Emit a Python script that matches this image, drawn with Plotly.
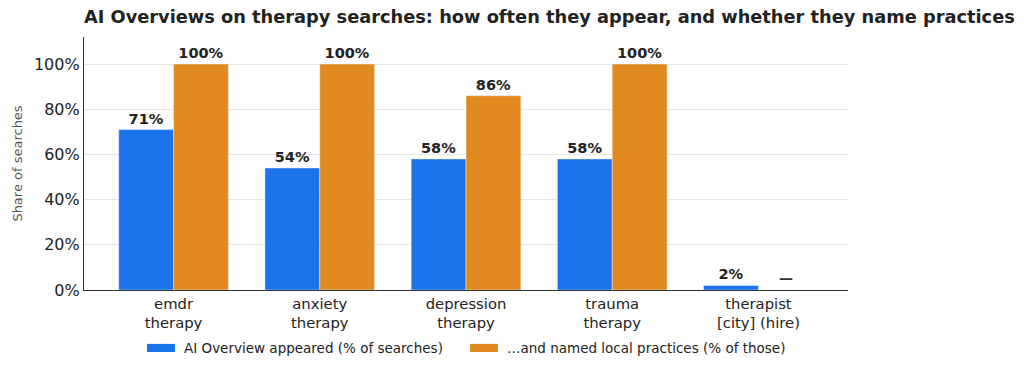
import plotly.graph_objects as go

categories = ["emdr<br>therapy", "anxiety<br>therapy", "depression<br>therapy", "trauma<br>therapy", "therapist<br>[city] (hire)"]
appeared = [71, 54, 58, 58, 2]
named_local = [100, 100, 86, 100, None]
series_names = ["AI Overview appeared (% of searches)", "…and named local practices (% of those)"]
y_ticks = [0, 20, 40, 60, 80, 100]

BLUE = "#1a73e8"
ORANGE = "#e08a1f"
FONT = "DejaVu Sans"

def labels(vals):
    return [f"<b>{v}%</b>" if v is not None else "" for v in vals]

fig = go.Figure()
fig.add_trace(go.Bar(x=categories, y=appeared, name=series_names[0], marker_color=BLUE,
                     text=labels(appeared), textposition="outside", cliponaxis=False,
                     textfont=dict(size=14.5, color="#222222", family=FONT)))
fig.add_trace(go.Bar(x=categories, y=named_local, name=series_names[1], marker_color=ORANGE,
                     text=labels(named_local), textposition="outside", cliponaxis=False,
                     textfont=dict(size=14.5, color="#222222", family=FONT)))

for c, v in zip(categories, named_local):
    if v is None:
        fig.add_annotation(x=c, y=0, xref="x", yref="y", text="<b>—</b>", showarrow=False,
                           xshift=27.5, yshift=12, font=dict(size=14, color="#333333", family=FONT))

# manual legend (wide rectangular swatches like the reference)
leg = [(0.0825, 0.1191, 0.1283, series_names[0], BLUE),
       (0.5052, 0.5419, 0.5511, series_names[1], ORANGE)]
for x0, x1, xt, name, col in leg:
    fig.add_shape(type="rect", xref="paper", yref="paper", x0=x0, x1=x1, y0=-0.245, y1=-0.213,
                  fillcolor=col, line=dict(width=0))
    fig.add_annotation(xref="paper", yref="paper", x=xt, y=-0.229, xanchor="left", yanchor="middle",
                       text=name, showarrow=False, font=dict(size=13.5, color="#222222", family=FONT))

fig.update_layout(
    width=1024, height=372,
    margin=dict(l=84, r=176, t=37, b=82),
    paper_bgcolor="white", plot_bgcolor="white",
    font=dict(family=FONT, color="#222222"),
    barmode="group", bargap=0.25, bargroupgap=0,
    title=dict(text="<b>AI Overviews on therapy searches: how often they appear, and whether they name practices</b>",
               x=84/1024, xanchor="left", xref="container", y=1-17/372, yanchor="middle",
               font=dict(size=17.8, color="#222222", family=FONT)),
    showlegend=False,
)
fig.update_yaxes(range=[0, 112], tickvals=y_ticks, ticktext=[f"{t}%" for t in y_ticks],
                 showgrid=True, gridcolor="#e6e6e6", gridwidth=1,
                 showline=True, linecolor="#333333", linewidth=1.2,
                 tickfont=dict(size=16, color="#222222"), ticks="", automargin=False,
                 title=dict(text="Share of searches", font=dict(size=13, color="#555555"), standoff=8),
                 zeroline=False)
fig.update_xaxes(showline=True, linecolor="#333333", linewidth=1.2, ticks="", automargin=False,
                 tickfont=dict(size=14.8, color="#222222"), range=[-0.6125, 4.6125])

fig.write_html("out.html")
